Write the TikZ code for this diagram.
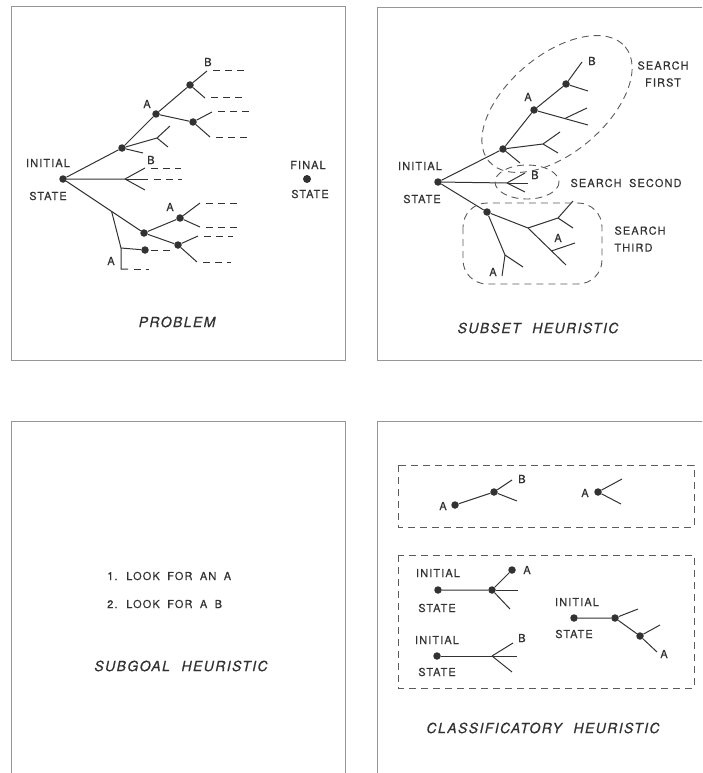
\documentclass[tikz,border=0pt]{standalone}
\usepackage{fontspec}
\usetikzlibrary{calc}
\newfontfamily\lblfont[LetterSpace=10, WordSpace=1.8, FakeBold=0.3]{TeX Gyre Heros}
\newfontfamily\ttlfont[LetterSpace=10, WordSpace=2.2, FakeBold=0.5]{TeX Gyre Heros}
\definecolor{ink}{RGB}{50,50,50}
\definecolor{frame}{RGB}{150,150,150}

\begin{document}
\begin{tikzpicture}[x=1pt, y=-1pt,
    dot/.style={circle, fill=ink, inner sep=0pt, minimum size=7.5pt},
    lbl/.style={font=\lblfont\fontsize{11}{13}\selectfont, text=ink, inner sep=1pt},
    ttl/.style={font=\ttlfont\itshape\fontsize{14}{16}\selectfont, text=ink},
    branch/.style={draw=ink, line width=1pt},
    trail/.style={draw=ink, line width=1pt, dash pattern=on 7pt off 5pt},
    zone/.style={draw=ink!80, line width=0.9pt, dash pattern=on 7pt off 5pt},
    panel/.style={draw=frame, line width=0.8pt}]
    \clip (0,0) rectangle (702,773);

    % frames
    \draw[panel] (11,6) rectangle (345,360);
    \draw[panel] (377,7) rectangle (720,360);
    \draw[panel] (11,421) rectangle (345,790);
    \draw[panel] (377,421) rectangle (720,790);

    % problem
    \node[dot] (p1init) at (63,179) {};
    \node[lbl] (p1initlbl) at (48,163) {INITIAL};
    \node[lbl] (p1statelbl) at (48,196) {STATE};
    \node[dot] (p1n1) at (122,148) {};
    \node[dot] (p1a) at (156,114) {};
    \node[dot] (p1ab) at (190,85) {};
    \node[dot] (p1ac) at (193,122) {};
    \node[dot] (p1low) at (144,233) {};
    \node[dot] (p1la) at (180,218) {};
    \node[dot] (p1lb) at (178,245) {};
    \node[dot] (p1side) at (145,250) {};
    \coordinate (p1abu) at (207,71);
    \coordinate (p1abd) at (205,98);
    \coordinate (p1acu) at (212,112);
    \coordinate (p1acd) at (210,137);
    \coordinate (p1f) at (157,138);
    \coordinate (p1fu) at (170,126);
    \coordinate (p1fd) at (168,147);
    \coordinate (p1n1s) at (143,153);
    \coordinate (p1m) at (125,179);
    \coordinate (p1mu) at (145,168);
    \coordinate (p1md) at (145,190);
    \coordinate (p1ms) at (148,179);
    \coordinate (p1v) at ($(p1init)!0.6!(p1low)$);
    \coordinate (p1ve) at (121,248);
    \coordinate (p1vb) at (121,269);
    \coordinate (p1vh) at (128,269);
    \coordinate (p1lau) at (200,203);
    \coordinate (p1lad) at (200,227);
    \coordinate (p1lbu) at (198,236);
    \coordinate (p1lbd) at (197,262);
    \node[lbl] (p1alab) at (147,104) {A};
    \node[lbl] (p1blab) at (208,62) {B};
    \node[lbl] (p1mlab) at (151,160) {B};
    \node[lbl] (p1lalab) at (170,207) {A};
    \node[lbl] (p1vlab) at (111,261) {A};

    \draw[branch] (p1init) -- (p1n1) -- (p1a) -- (p1ab) -- (p1abu);
    \draw[branch] (p1ab) -- (p1abd);
    \draw[branch] (p1a) -- (p1ac) -- (p1acu);
    \draw[branch] (p1ac) -- (p1acd);
    \draw[branch] (p1n1) -- (p1f) -- (p1fu);
    \draw[branch] (p1f) -- (p1fd);
    \draw[branch] (p1n1) -- (p1n1s);
    \draw[branch] (p1init) -- (p1m) -- (p1mu);
    \draw[branch] (p1m) -- (p1md);
    \draw[branch] (p1m) -- (p1ms);
    \draw[branch] (p1init) -- (p1low) -- (p1la) -- (p1lau);
    \draw[branch] (p1la) -- (p1lad);
    \draw[branch] (p1low) -- (p1lb) -- (p1lbu);
    \draw[branch] (p1lb) -- (p1lbd);
    \draw[branch] (p1v) -- (p1ve) -- (p1vb) -- (p1vh);
    \draw[branch] (p1ve) -- (p1side);
    \foreach \c/\len in {p1abu/35, p1abd/34, p1acu/33, p1acd/35, p1mu/30,
        p1ms/28, p1side/19, p1vh/15, p1lau/31, p1lad/33, p1lbu/29, p1lbd/28}
        \draw[trail] ($(\c)+(6,0)$) -- ++(\len,0);

    \node[dot, minimum size=8pt] (p1final) at (307,179) {};
    \node[lbl] (p1finallbl) at (308,165) {FINAL};
    \node[lbl] (p1fstatelbl) at (310,194) {STATE};
    \node[ttl] (p1title) at (177,322) {PROBLEM};

    % subset heuristic
    \node[dot] (p2init) at (438,182) {};
    \node[lbl] (p2initlbl) at (420,166) {INITIAL};
    \node[lbl] (p2statelbl) at (422,199) {STATE};
    \node[dot] (p2n1) at (503,149) {};
    \node[dot] (p2a) at (534,110) {};
    \node[dot] (p2ab) at (566,84) {};
    \node[dot] (p2low) at (487,212) {};
    \coordinate (p2abu) at (582,62);
    \coordinate (p2abd) at (588,91);
    \coordinate (p2ac) at (588,125);
    \coordinate (p2acf) at ($(p2a)!0.57!(p2ac)$);
    \coordinate (p2acu) at (587,108);
    \coordinate (p2f) at (543,144);
    \coordinate (p2fu) at (560,132);
    \coordinate (p2fd) at (558,153);
    \coordinate (p2n1s) at (520,163);
    \coordinate (p2m) at (507,183);
    \coordinate (p2mu) at (525,173);
    \coordinate (p2md) at (525,192);
    \coordinate (p2ms) at (528,183);
    \coordinate (p2lf) at (528,228);
    \coordinate (p2lfa) at (558,218);
    \coordinate (p2lfau) at (573,201);
    \coordinate (p2lfad) at (573,228);
    \coordinate (p2le) at (566,265);
    \coordinate (p2lg) at ($(p2lf)!0.62!(p2le)$);
    \coordinate (p2lgu) at (575,243);
    \coordinate (p2lv) at (505,255);
    \coordinate (p2lvr) at (523,267);
    \coordinate (p2lvd) at (502,276);
    \node[lbl] (p2alab) at (528,97) {A};
    \node[lbl] (p2blab) at (592,61) {B};
    \node[lbl] (p2mlab) at (535,175) {B};
    \node[lbl] (p2lglab) at (558,238) {A};
    \node[lbl] (p2lvlab) at (493,272) {A};

    \draw[branch] (p2init) -- (p2n1) -- (p2a) -- (p2ab) -- (p2abu);
    \draw[branch] (p2ab) -- (p2abd);
    \draw[branch] (p2a) -- (p2ac);
    \draw[branch] (p2acf) -- (p2acu);
    \draw[branch] (p2n1) -- (p2f) -- (p2fu);
    \draw[branch] (p2f) -- (p2fd);
    \draw[branch] (p2n1) -- (p2n1s);
    \draw[branch] (p2init) -- (p2m) -- (p2mu);
    \draw[branch] (p2m) -- (p2md);
    \draw[branch] (p2m) -- (p2ms);
    \draw[branch] (p2init) -- (p2low) -- (p2lf) -- (p2le);
    \draw[branch] (p2lf) -- (p2lfa) -- (p2lfau);
    \draw[branch] (p2lfa) -- (p2lfad);
    \draw[branch] (p2lg) -- (p2lgu);
    \draw[branch] (p2low) -- (p2lv) -- (p2lvr);
    \draw[branch] (p2lv) -- (p2lvd);

    \draw[zone, rotate around={40:(557,104)}] (557,104) ellipse [x radius=89, y radius=49];
    \draw[zone] (527,182) ellipse [x radius=32, y radius=17];
    \draw[zone, rounded corners=24] (463,203) rectangle (602,284);
    \node[lbl, align=center] (p2first) at (663,74) {SEARCH\\[4pt]FIRST};
    \node[lbl] (p2second) at (626,183) {SEARCH SECOND};
    \node[lbl, align=left] (p2third) at (640,239) {SEARCH\\[4pt]THIRD};
    \node[ttl] (p2title) at (538,328) {SUBSET HEURISTIC};

    % subgoal heuristic
    \node[lbl, anchor=west] (p3one) at (106,576) {1. LOOK FOR AN A};
    \node[lbl, anchor=west] (p3two) at (106,604) {2. LOOK FOR A B};
    \node[ttl] (p3title) at (181,666) {SUBGOAL HEURISTIC};

    % classificatory heuristic
    \draw[zone] (398,465) rectangle (694,527);
    \draw[zone] (398,555) rectangle (694,688);

    \node[dot] (p4ka) at (455,505) {};
    \node[lbl] (p4kalab) at (443,506) {A};
    \node[dot] (p4kn) at (494,492) {};
    \coordinate (p4knu) at (512,480);
    \coordinate (p4knd) at (517,501);
    \node[lbl] (p4kblab) at (522,479) {B};
    \draw[branch] (p4ka) -- (p4kn) -- (p4knu);
    \draw[branch] (p4kn) -- (p4knd);

    \node[dot] (p4ja) at (598,492) {};
    \node[lbl] (p4jalab) at (585,493) {A};
    \coordinate (p4jau) at (622,479);
    \coordinate (p4jad) at (621,504);
    \draw[branch] (p4jau) -- (p4ja) -- (p4jad);

    \node[lbl] (p4g1init) at (438,573) {INITIAL};
    \node[lbl] (p4g1state) at (437,608) {STATE};
    \node[dot] (p4g1s) at (438,590) {};
    \node[dot] (p4g1n) at (492,590) {};
    \node[dot] (p4g1a) at (512,570) {};
    \node[lbl] (p4g1alab) at (527,570) {A};
    \coordinate (p4g1r) at (518,590);
    \coordinate (p4g1d) at (510,609);
    \draw[branch] (p4g1s) -- (p4g1n) -- (p4g1a);
    \draw[branch] (p4g1n) -- (p4g1r);
    \draw[branch] (p4g1n) -- (p4g1d);

    \node[lbl] (p4g2init) at (437,640) {INITIAL};
    \node[lbl] (p4g2state) at (437,672) {STATE};
    \node[dot] (p4g2s) at (437,656) {};
    \coordinate (p4g2f) at (492,656);
    \coordinate (p4g2r) at (517,656);
    \coordinate (p4g2u) at (513,643);
    \coordinate (p4g2d) at (512,672);
    \node[lbl] (p4g2blab) at (522,638) {B};
    \draw[branch] (p4g2s) -- (p4g2r);
    \draw[branch] (p4g2f) -- (p4g2u);
    \draw[branch] (p4g2f) -- (p4g2d);

    \node[lbl] (p4g3init) at (577,602) {INITIAL};
    \node[lbl] (p4g3state) at (574,634) {STATE};
    \node[dot] (p4g3s) at (574,618) {};
    \node[dot] (p4g3n) at (615,618) {};
    \node[dot] (p4g3m) at (640,636) {};
    \coordinate (p4g3nu) at (638,609);
    \coordinate (p4g3mu) at (660,625);
    \coordinate (p4g3md) at (657,652);
    \node[lbl] (p4g3alab) at (664,654) {A};
    \draw[branch] (p4g3s) -- (p4g3n) -- (p4g3m) -- (p4g3md);
    \draw[branch] (p4g3n) -- (p4g3nu);
    \draw[branch] (p4g3m) -- (p4g3mu);

    \node[ttl] (p4title) at (543,728) {CLASSIFICATORY HEURISTIC};
\end{tikzpicture}
\end{document}
